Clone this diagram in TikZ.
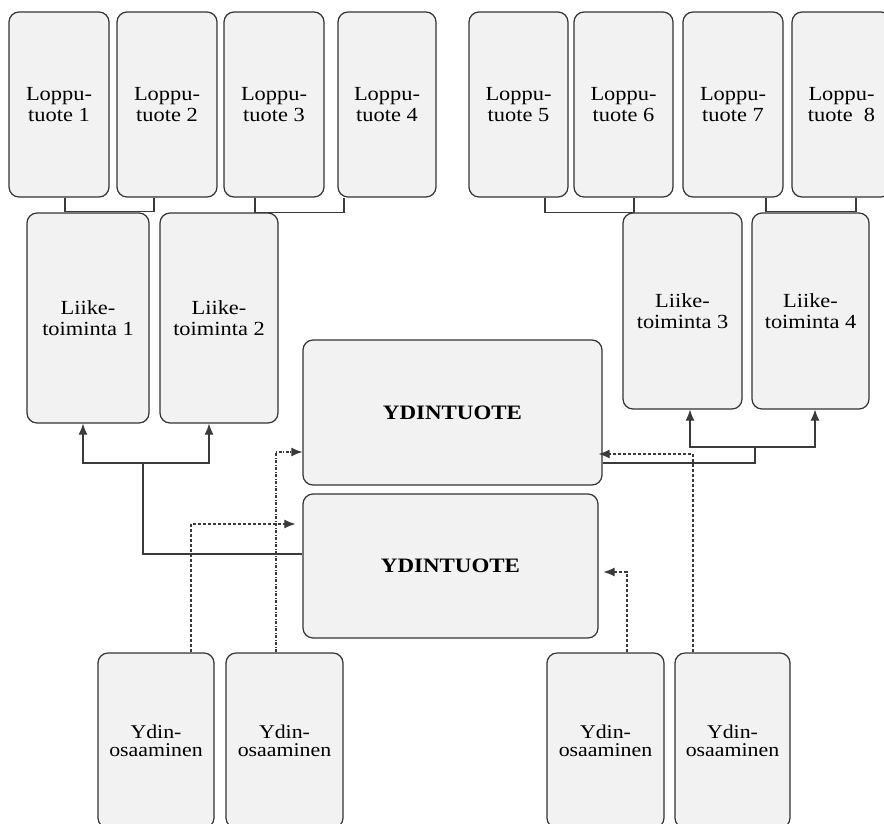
\documentclass[tikz,border=0pt]{standalone}
\usepackage{fontspec}
\setmainfont{Liberation Serif}[FakeStretch=1.12]
\usetikzlibrary{arrows.meta}
\definecolor{boxfill}{HTML}{F2F2F2}
\definecolor{boxline}{HTML}{333333}
\definecolor{conline}{HTML}{3A3A3A}
\begin{document}
\begin{tikzpicture}[x=1pt,y=-1pt,
  box/.style={draw=boxline, fill=boxfill, line width=1.2pt, rounded corners=10pt,
    align=center, inner sep=0pt, font=\fontsize{20}{21}\selectfont},
  ybox/.style={box, font=\fontsize{19.5}{18}\selectfont},
  core/.style={box, font=\fontsize{20.5}{22}\selectfont\bfseries},
  con/.style={draw=conline, line width=1.1pt},
  arr/.style={con, -{Latex[length=11pt,width=9pt]}},
  darr/.style={con, dash pattern=on 3pt off 2pt, -{Latex[length=11pt,width=9pt]}},
  ddarr/.style={con, dash pattern=on 3pt off 1.5pt on 1pt off 1.5pt, -{Latex[length=11pt,width=9pt]}}]
\useasboundingbox (0,0) rectangle (884,823);
\clip (0,0) rectangle (884,823);
% Loppu-tuote boxes
\node[box, minimum width=100, minimum height=185] (L1) at (59,104.5) {Loppu-\\tuote 1};
\node[box, minimum width=100, minimum height=185] (L2) at (167,104.5) {Loppu-\\tuote 2};
\node[box, minimum width=100, minimum height=185] (L3) at (274,104.5) {Loppu-\\tuote 3};
\node[box, minimum width=98, minimum height=185] (L4) at (387,104.5) {Loppu-\\tuote 4};
\node[box, minimum width=99, minimum height=185] (L5) at (518.5,104.5) {Loppu-\\tuote 5};
\node[box, minimum width=99, minimum height=185] (L6) at (623.5,104.5) {Loppu-\\tuote 6};
\node[box, minimum width=100, minimum height=185] (L7) at (733,104.5) {Loppu-\\tuote 7};
\node[box, minimum width=99, minimum height=185] (L8) at (841.5,104.5) {Loppu-\\tuote\ \ 8};
% Liiketoiminta boxes
\node[box, minimum width=122, minimum height=210] (LT1) at (88,318) {Liike-\\toiminta 1};
\node[box, minimum width=118, minimum height=210] (LT2) at (219,318) {Liike-\\toiminta 2};
\node[box, minimum width=119, minimum height=196] (LT3) at (682.5,311) {Liike-\\toiminta 3};
\node[box, minimum width=117, minimum height=196] (LT4) at (810.5,311) {Liike-\\toiminta 4};
% Ydintuote boxes
\node[core, minimum width=299, minimum height=145] (YD1) at (452.5,412.5) {YDINTUOTE};
\node[core, minimum width=295, minimum height=144] (YD2) at (450.5,566) {YDINTUOTE};
% Ydinosaaminen boxes
\node[ybox, minimum width=116, minimum height=175] (B1) at (156,740.5) {Ydin-\\osaaminen};
\node[ybox, minimum width=117, minimum height=175] (B2) at (284.5,740.5) {Ydin-\\osaaminen};
\node[ybox, minimum width=117, minimum height=175] (B3) at (605.5,740.5) {Ydin-\\osaaminen};
\node[ybox, minimum width=115, minimum height=175] (B4) at (732.5,740.5) {Ydin-\\osaaminen};
% top brackets
\draw[con] ([xshift=6]L1.south) -- ++(0,14) -| ([xshift=-13]L2.south);
\draw[con] ([xshift=-19]L3.south) -- ++(0,15) -| ([xshift=-43]L4.south);
\draw[con] ([xshift=26.5]L5.south) -- ++(0,15) -| ([xshift=10.5]L6.south);
\draw[con] ([xshift=33]L7.south) -- ++(0,14) -| ([xshift=14.5]L8.south);
% solid arrows to Liiketoiminta
\coordinate (jL) at (143,463);
\coordinate (jR) at (755,447);
\draw[con] ([yshift=12]YD2.west) -| (jL);
\draw[arr] (jL) -| ([xshift=-5]LT1.south);
\draw[arr] (jL) -| ([xshift=-10]LT2.south);
\draw[con] ([yshift=-50.5]YD1.east) -| (jR);
\draw[arr] (jR) -| ([xshift=7.5]LT3.south);
\draw[arr] (jR) -| ([xshift=4.5]LT4.south);
% dashed arrows from Ydinosaaminen
\draw[darr] ([xshift=35]B1.north) |- ([xshift=-7,yshift=42]YD2.west);
\draw[ddarr] ([xshift=-8.5]B2.north) |- ([yshift=-39.5]YD1.west);
\draw[darr] ([xshift=21.5]B3.north) |- ([xshift=5,yshift=-6]YD2.east);
\draw[darr] ([xshift=-39.5]B4.north) |- ([xshift=-4,yshift=-41.5]YD1.east);
\end{tikzpicture}
\end{document}
